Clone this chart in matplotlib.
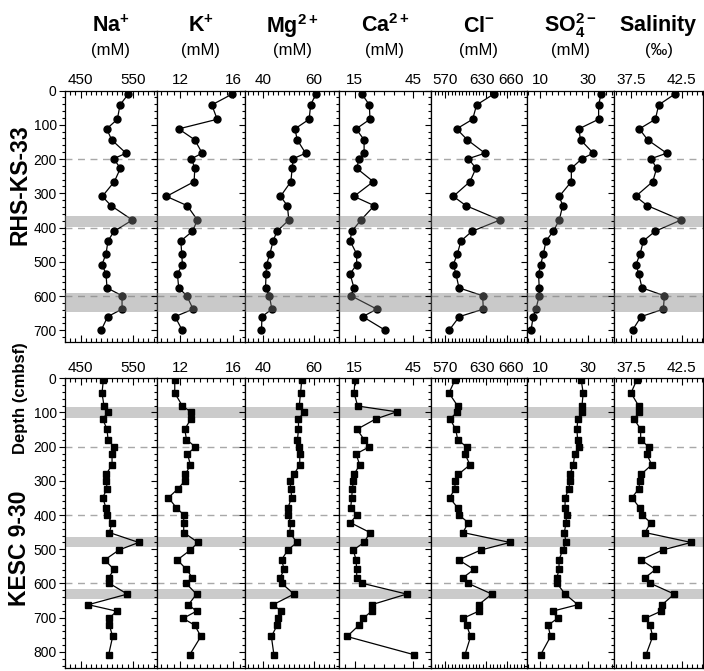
import matplotlib
matplotlib.use("Agg")
import matplotlib.pyplot as plt
from matplotlib.ticker import FixedLocator, FixedFormatter, MultipleLocator
from matplotlib.transforms import ScaledTranslation

plt.rcParams['font.family'] = ['Liberation Sans', 'DejaVu Sans']
plt.rcParams['mathtext.fontset'] = 'custom'
plt.rcParams['mathtext.rm'] = 'Liberation Sans'
plt.rcParams['mathtext.bf'] = 'Liberation Sans:bold'
plt.rcParams['mathtext.it'] = 'Liberation Sans:italic'

W, H = 704, 671

# --- RHS-KS-33 (circles) ---
depth_rhs = [10, 42, 84, 112, 144, 183, 199, 227, 266, 309, 336, 378, 411, 439,
             477, 508, 535, 576, 599, 638, 660, 699]
na_rhs = [541.7, 525.6, 520.5, 500.0, 509.6, 537.2, 513.4, 526.3, 514.7, 491.6, 508.3,
          549.3, 514.1, 502.5, 498.7, 491.0, 498.7, 500.6, 529.5, 529.5, 501.9, 489.7]
k_rhs = [15.95, 14.38, 14.79, 11.87, 13.09, 13.65, 12.84, 13.09, 13.04, 10.94, 12.51,
         13.29, 12.91, 12.03, 12.10, 12.15, 11.77, 11.87, 12.48, 12.96, 11.59, 12.13]
mg_rhs = [60.8, 58.7, 58.1, 52.5, 53.4, 56.7, 51.8, 51.4, 50.9, 46.8, 49.5,
          50.1, 45.4, 43.9, 42.6, 41.3, 41.1, 40.9, 42.4, 43.4, 39.5, 39.3]
ca_rhs = [18.6, 22.5, 22.8, 15.7, 19.8, 19.8, 17.2, 16.0, 24.5, 14.6, 25.0,
          18.2, 13.5, 12.6, 16.0, 16.0, 12.6, 14.6, 13.1, 26.3, 19.1, 30.4]
cl_rhs = [641.0, 615.9, 610.1, 586.9, 602.4, 628.0, 603.8, 614.9, 606.2, 582.1, 600.4,
          649.7, 609.1, 593.2, 587.9, 582.1, 585.9, 590.3, 624.6, 625.6, 590.8, 576.3]
so4_rhs = [35.3, 34.3, 34.3, 26.1, 26.8, 32.1, 27.4, 23.0, 23.0, 18.0, 19.4,
           18.0, 15.5, 12.5, 11.4, 10.3, 9.4, 9.7, 9.7, 8.3, 7.2, 6.3]
sal_rhs = [41.84, 40.23, 39.90, 38.32, 39.14, 41.02, 39.47, 40.03, 39.64, 37.96, 39.11,
           42.43, 39.87, 38.72, 38.39, 37.99, 38.26, 38.58, 40.79, 40.69, 38.49, 37.66]
bands_rhs = [(365, 397), (591, 647)]

# --- KESC 9-30 (squares) ---
depth_kesc = [5, 43, 81, 98, 119, 149, 179, 201, 221, 253, 281, 300, 323, 349, 379, 399,
              422, 451, 480, 502, 531, 559, 583, 599, 631, 662, 681, 702, 722, 755, 808]
na_kesc = [493.6, 491.0, 494.9, 503.2, 492.3, 500.6, 502.6, 514.1, 510.3, 510.3, 498.7,
           499.4, 500.6, 492.3, 498.7, 500.0, 510.3, 505.1, 561.5, 523.7, 496.2, 514.1,
           503.8, 504.5, 539.7, 464.7, 519.2, 504.5, 505.1, 511.5, 503.8]
k_kesc = [11.57, 11.57, 12.15, 12.79, 12.79, 12.33, 12.46, 13.14, 12.53, 12.76, 12.38,
          12.33, 11.82, 11.09, 11.70, 12.25, 12.25, 12.25, 13.34, 12.76, 11.77, 12.46,
          12.91, 12.41, 13.22, 12.61, 13.22, 12.20, 13.09, 13.55, 12.71]
mg_kesc = [55.2, 54.7, 54.2, 56.2, 53.9, 53.9, 53.5, 54.2, 54.4, 54.4, 52.1,
           50.5, 50.9, 51.2, 49.7, 49.8, 50.9, 50.4, 53.3, 49.7, 47.2, 48.3,
           46.6, 47.2, 52.1, 43.9, 47.0, 45.8, 45.5, 43.2, 44.2]
ca_kesc = [15.15, 14.64, 16.52, 36.49, 25.74, 16.18, 19.76, 22.32, 15.66, 17.54, 14.64,
           14.30, 13.79, 13.45, 12.93, 16.18, 12.76, 22.83, 19.76, 14.30, 15.66, 16.00,
           16.00, 18.57, 41.61, 23.69, 23.69, 19.25, 17.20, 11.06, 45.20]
cl_kesc = [584.5, 575.8, 588.4, 587.9, 577.3, 585.5, 588.4, 601.4, 599.0, 606.2, 589.3,
           584.5, 584.5, 576.8, 588.4, 589.8, 603.8, 596.1, 664.2, 622.2, 589.8, 612.0,
           596.1, 602.9, 638.1, 618.8, 618.8, 596.1, 601.4, 607.2, 599.0]
so4_kesc = [27.1, 27.9, 27.4, 27.4, 25.7, 25.3, 25.6, 26.0, 24.4, 23.8, 22.4,
            22.4, 22.0, 20.4, 20.4, 21.0, 20.8, 20.1, 20.8, 19.4, 17.9, 17.9,
            17.0, 17.0, 20.4, 25.7, 15.2, 17.3, 13.3, 14.4, 10.3]
sal_kesc = [38.06, 37.50, 38.26, 38.32, 37.80, 38.45, 38.45, 39.24, 39.04, 39.54, 38.49,
            38.39, 38.26, 37.60, 38.35, 38.55, 39.44, 38.88, 43.42, 40.62, 38.49, 39.93,
            38.88, 39.37, 41.77, 40.56, 40.46, 38.88, 39.37, 39.64, 38.98]
bands_kesc = [(85, 115), (465, 492), (617, 646)]

# headers and axis ticks
headers = [r"$\mathbf{Na^{+}}$", r"$\mathbf{K^{+}}$", r"$\mathbf{Mg^{2+}}$",
           r"$\mathbf{Ca^{2+}}$", r"$\mathbf{Cl^{-}}$", r"$\mathbf{SO_{4}^{2-}}$",
           r"$\mathbf{Salinity}$"]
units = ["(mM)", "(mM)", "(mM)", "(mM)", "(mM)", "(mM)", "(‰)"]
tick_labels = [["450", "550"], ["12", "16"], ["40", "60"], ["15", "45"],
               ["570", "630", "660"], ["10", "30"], ["37.5", "42.5"]]
tick_values = [[450, 550], [12, 16], [40, 60], [15, 45], [570, 630, 660], [10, 30], [37.5, 42.5]]

xlims = [(420, 596), (10.2, 16.9), (32.8, 70), (7.1, 53.9), (549.3, 688.5), (4.5, 40.8), (35.85, 44.57)]
minor_step = [10, 0.5, 2, 5, 5, 2.5, 0.5]
# small horizontal nudges (px) of the crowded Cl- labels, as in the original
label_nudge = {4: [0, -4.5, 4]}

# panel edges in pixels
lefts = [65, 156.7, 245, 339.3, 430.7, 526.7, 614.3, 702.7]
rows = [
    dict(y0=90.5, y1=342, ymax=734, depth=depth_rhs, bands=bands_rhs, marker='o', ms=5,
         band_on_top=True, yt=range(0, 800, 100),
         data=[na_rhs, k_rhs, mg_rhs, ca_rhs, cl_rhs, so4_rhs, sal_rhs]),
    dict(y0=378.3, y1=668.3, ymax=848, depth=depth_kesc, bands=bands_kesc, marker='s', ms=4.8,
         band_on_top=False, yt=range(0, 900, 100),
         data=[na_kesc, k_kesc, mg_kesc, ca_kesc, cl_kesc, so4_kesc, sal_kesc]),
]

fig = plt.figure(figsize=(W / 100, H / 100), dpi=100)

for row in rows:
    for i in range(7):
        l, r = lefts[i], lefts[i + 1]
        ax = fig.add_axes([l / W, (H - row['y1']) / H, (r - l) / W, (row['y1'] - row['y0']) / H])
        ax.set_xlim(*xlims[i])
        ax.set_ylim(row['ymax'], 0)

        # gray bands + dashed guides
        for b0, b1 in row['bands']:
            if row['band_on_top']:
                ax.axhspan(b0, b1, color='#808080', alpha=0.42, lw=0, zorder=4)
            else:
                ax.axhspan(b0, b1, color='#cbcbcb', lw=0, zorder=0)
        for d in (200, 400, 600):
            ax.axhline(d, color='#a8a8a8', lw=1.0, ls=(0, (5, 4)), zorder=0.5)

        ax.plot(row['data'][i], row['depth'], '-', color='black', lw=0.9,
                marker=row['marker'], ms=row['ms'], mfc='black', mec='black', zorder=3)

        # x ticks on top, inward
        ax.xaxis.set_major_locator(FixedLocator(tick_values[i]))
        ax.xaxis.set_major_formatter(FixedFormatter(tick_labels[i]))
        ax.xaxis.set_minor_locator(MultipleLocator(minor_step[i]))
        ax.tick_params(axis='x', which='both', direction='in', top=True, bottom=True,
                       labeltop=True, labelbottom=False, labelsize=11, pad=2.5, width=0.8)
        ax.tick_params(axis='x', which='major', length=5)
        ax.tick_params(axis='x', which='minor', length=3)

        # y ticks outward on the left
        ax.yaxis.set_major_locator(FixedLocator(list(row['yt'])))
        ax.yaxis.set_minor_locator(MultipleLocator(20))
        ax.tick_params(axis='y', which='both', direction='out', left=True, right=False,
                       labelleft=(i == 0), labelsize=10, pad=1.5, width=0.8)
        ax.tick_params(axis='y', which='major', length=4.5)
        ax.tick_params(axis='y', which='minor', length=2.5)
        for sp in ax.spines.values():
            sp.set_linewidth(0.9)

        if i in label_nudge:
            for tick, dx in zip(ax.xaxis.get_major_ticks(), label_nudge[i]):
                tick.label2.set_transform(tick.label2.get_transform() +
                                          ScaledTranslation(dx / 100, 0, fig.dpi_scale_trans))

# column headers
for i in range(7):
    cx = (lefts[i] + lefts[i + 1]) / 2 / W
    fig.text(cx, 1 - 26 / H, headers[i], fontsize=15.5, ha='center', va='center')
    fig.text(cx, 1 - 50 / H, units[i], fontsize=12, ha='center', va='center')

# row labels
fig.text(20 / W, 1 - 185 / H, "RHS-KS-33", rotation=90, fontsize=16.5, fontweight='bold',
         ha='center', va='center')
fig.text(21 / W, 1 - 398 / H, "Depth (cmbsf)", rotation=90, fontsize=12, fontweight='bold',
         ha='center', va='center')
fig.text(20 / W, 1 - 548 / H, "KESC 9-30", rotation=90, fontsize=16.5, fontweight='bold',
         ha='center', va='center')

fig.savefig("out.png", dpi=100)
